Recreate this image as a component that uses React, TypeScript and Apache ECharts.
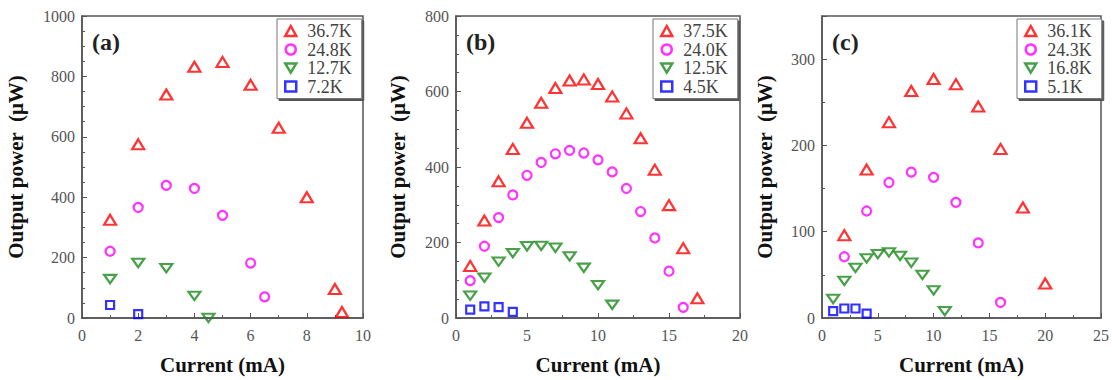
import React, { useEffect, useRef } from "react";
import * as echarts from "echarts";

// Panel (a)
const aRedX = [1, 2, 3, 4, 5, 6, 7, 8, 9, 9.25];
const aRed = [325, 575, 740, 832, 848, 772, 630, 400, 96, 20];
const aMagX = [1, 2, 3, 4, 5, 6, 6.5];
const aMag = [221, 366, 439, 429, 340, 182, 70];
const aGreenX = [1, 2, 3, 4, 4.5];
const aGreen = [129, 182, 165, 73, 0];
const aBlueX = [1, 2];
const aBlue = [43, 13];
const aNames = ["36.7K", "24.8K", "12.7K", "7.2K"];

// Panel (b)
const bRedX = [1, 2, 3, 4, 5, 6, 7, 8, 9, 10, 11, 12, 13, 14, 15, 16, 17];
const bRed = [138, 258, 362, 448, 517, 570, 609, 629, 632, 620, 587, 542, 476, 393, 299, 185, 52];
const bMagX = [1, 2, 3, 4, 5, 6, 7, 8, 9, 10, 11, 12, 13, 14, 15, 16];
const bMag = [99, 190, 266, 326, 378, 412, 435, 444, 437, 419, 387, 343, 282, 212, 124, 28];
const bGreenX = [1, 2, 3, 4, 5, 6, 7, 8, 9, 10, 11];
const bGreen = [59, 107, 149, 172, 190, 191, 186, 163, 133, 87, 35];
const bBlueX = [1, 2, 3, 4];
const bBlue = [22, 31, 29, 16];
const bNames = ["37.5K", "24.0K", "12.5K", "4.5K"];

// Panel (c)
const cRedX = [2, 4, 6, 8, 10, 12, 14, 16, 18, 20];
const cRed = [96, 172, 227, 263, 277, 271, 245, 196, 128, 40];
const cMagX = [2, 4, 6, 8, 10, 12, 14, 16];
const cMag = [71, 124, 157, 169, 163, 134, 87, 18];
const cGreenX = [1, 2, 3, 4, 5, 6, 7, 8, 9, 10, 11];
const cGreen = [22, 43, 58, 69, 74, 76, 72, 64, 50, 32, 8];
const cBlueX = [1, 2, 3, 4];
const cBlue = [8, 11, 11, 5];
const cNames = ["36.1K", "24.3K", "16.8K", "5.1K"];

// Axis ranges per panel
const xMax = [10, 20, 25];
const xStep = [2, 5, 5];
const yMax = [1000, 800, 350];
const yStep = [200, 200, 100];
const yMinorSplit = [4, 4, 2];
const panelLabels = ["(a)", "(b)", "(c)"];

const SERIF = "Liberation Serif";
const RED = "#ff0000";
const MAGENTA = "#ff00ff";
const GREEN = "#1a8a1a";
const BLUE = "#0000ff";

// Downward-pointing triangle used for the green series and its legend icon
const DOWN_TRI = "path://M0,0 L12,0 L6,10 Z";

const grids = [
  { left: 82, top: 16, width: 281, height: 302 },
  { left: 456, top: 16, width: 284, height: 304 },
  { left: 822, top: 16, width: 281, height: 302 },
];
const legendPos = [
  { left: 277, top: 19 },
  { left: 653, top: 19 },
  { left: 1017, top: 19 },
];
const yNameGap = [56, 48, 47];

type Kind = "up" | "circle" | "down" | "square";

const styleFor = (kind: Kind) => {
  switch (kind) {
    case "up":
      return { symbol: "triangle", symbolSize: [12, 10], color: RED };
    case "circle":
      return { symbol: "circle", symbolSize: 9, color: MAGENTA };
    case "down":
      return { symbol: DOWN_TRI, symbolSize: [12, 10], color: GREEN };
    default:
      return { symbol: "rect", symbolSize: 8, color: BLUE };
  }
};

const makeSeries = (name: string, xs: number[], ys: number[], kind: Kind, gi: number) => {
  const s = styleFor(kind);
  return {
    type: "scatter",
    name,
    xAxisIndex: gi,
    yAxisIndex: gi,
    data: xs.map((x, i) => [x, ys[i]]),
    symbol: s.symbol,
    symbolSize: s.symbolSize,
    symbolKeepAspect: true,
    itemStyle: { color: "rgba(255,255,255,0)", borderColor: s.color, borderWidth: 2.2 },
    emphasis: { disabled: true },
  };
};

export default function App() {
  const ref = useRef<HTMLDivElement>(null);

  useEffect(() => {
    document.body.style.margin = "0";
    const chart = echarts.init(ref.current!, null, { renderer: "svg" });

    const panels = [
      { names: aNames, sets: [[aRedX, aRed], [aMagX, aMag], [aGreenX, aGreen], [aBlueX, aBlue]] },
      { names: bNames, sets: [[bRedX, bRed], [bMagX, bMag], [bGreenX, bGreen], [bBlueX, bBlue]] },
      { names: cNames, sets: [[cRedX, cRed], [cMagX, cMag], [cGreenX, cGreen], [cBlueX, cBlue]] },
    ];
    const kinds: Kind[] = ["up", "circle", "down", "square"];

    const series: any[] = [];
    panels.forEach((p, gi) => {
      p.sets.forEach((set, k) => {
        series.push(makeSeries(p.names[k], set[0] as number[], set[1] as number[], kinds[k], gi));
      });
    });

    const axisLine = { show: true, lineStyle: { color: "#555", width: 1.5 } };

    const xAxis = grids.map((_, gi) => ({
      type: "value",
      gridIndex: gi,
      min: 0,
      max: xMax[gi],
      interval: xStep[gi],
      name: "Current (mA)",
      nameLocation: "middle",
      nameGap: 36,
      nameTextStyle: { fontFamily: SERIF, fontWeight: "bold", fontSize: 21, color: "#111" },
      axisLine,
      axisTick: { show: true, inside: true, length: 5, lineStyle: { color: "#555" } },
      minorTick: { show: true, splitNumber: 2, length: 3, lineStyle: { color: "#555" } },
      axisLabel: { fontFamily: SERIF, fontSize: 16, color: "#555", margin: 9 },
      splitLine: { show: false },
    }));

    const yAxis = grids.map((_, gi) => ({
      type: "value",
      gridIndex: gi,
      min: 0,
      max: yMax[gi],
      interval: yStep[gi],
      name: "Output power  (\u03bcW)",
      nameLocation: "middle",
      nameRotate: 90,
      nameGap: yNameGap[gi],
      nameTextStyle: { fontFamily: SERIF, fontWeight: "bold", fontSize: 21, color: "#111" },
      axisLine,
      axisTick: { show: true, inside: true, length: 5, lineStyle: { color: "#555" } },
      minorTick: { show: true, splitNumber: yMinorSplit[gi], length: 3, lineStyle: { color: "#555" } },
      axisLabel: {
        fontFamily: SERIF,
        fontSize: 16,
        color: "#555",
        margin: 7,
        formatter: (v: number) => (v % yStep[gi] === 0 ? String(v) : ""),
      },
      splitLine: { show: false },
    }));

    const legend = panels.map((p, gi) => ({
      data: p.names.map((n, k) => ({
        name: n,
        icon: kinds[k] === "up" ? "triangle" : kinds[k] === "circle" ? "circle" : kinds[k] === "down" ? DOWN_TRI : "rect",
      })),
      orient: "vertical",
      left: legendPos[gi].left,
      top: legendPos[gi].top,
      itemWidth: 11,
      itemHeight: 10,
      itemGap: 0.5,
      padding: [3, 10, 3, 7],
      backgroundColor: "#fff",
      borderColor: "#777",
      borderWidth: 1,
      shadowColor: "#555",
      shadowBlur: 0,
      shadowOffsetX: 2,
      shadowOffsetY: 2,
      selectedMode: false,
      itemStyle: { borderWidth: 2.5 },
      textStyle: { fontFamily: SERIF, fontSize: 18, lineHeight: 17, color: "#444", padding: [0, 0, 0, 6] },
    }));

    const graphic = grids.map((g, gi) => ({
      type: "text",
      left: g.left + 10,
      top: 30,
      style: { text: panelLabels[gi], fontFamily: SERIF, fontWeight: "bold", fontSize: 24, fill: "#222" },
    }));

    chart.setOption({
      animation: false,
      backgroundColor: "#fff",
      grid: grids.map((g) => ({ ...g, show: true, borderColor: "#555", borderWidth: 1.5, backgroundColor: "transparent" })),
      xAxis,
      yAxis,
      legend,
      graphic,
      series,
    });

    return () => chart.dispose();
  }, []);

  return <div ref={ref} style={{ width: 1112, height: 380 }} />;
}
